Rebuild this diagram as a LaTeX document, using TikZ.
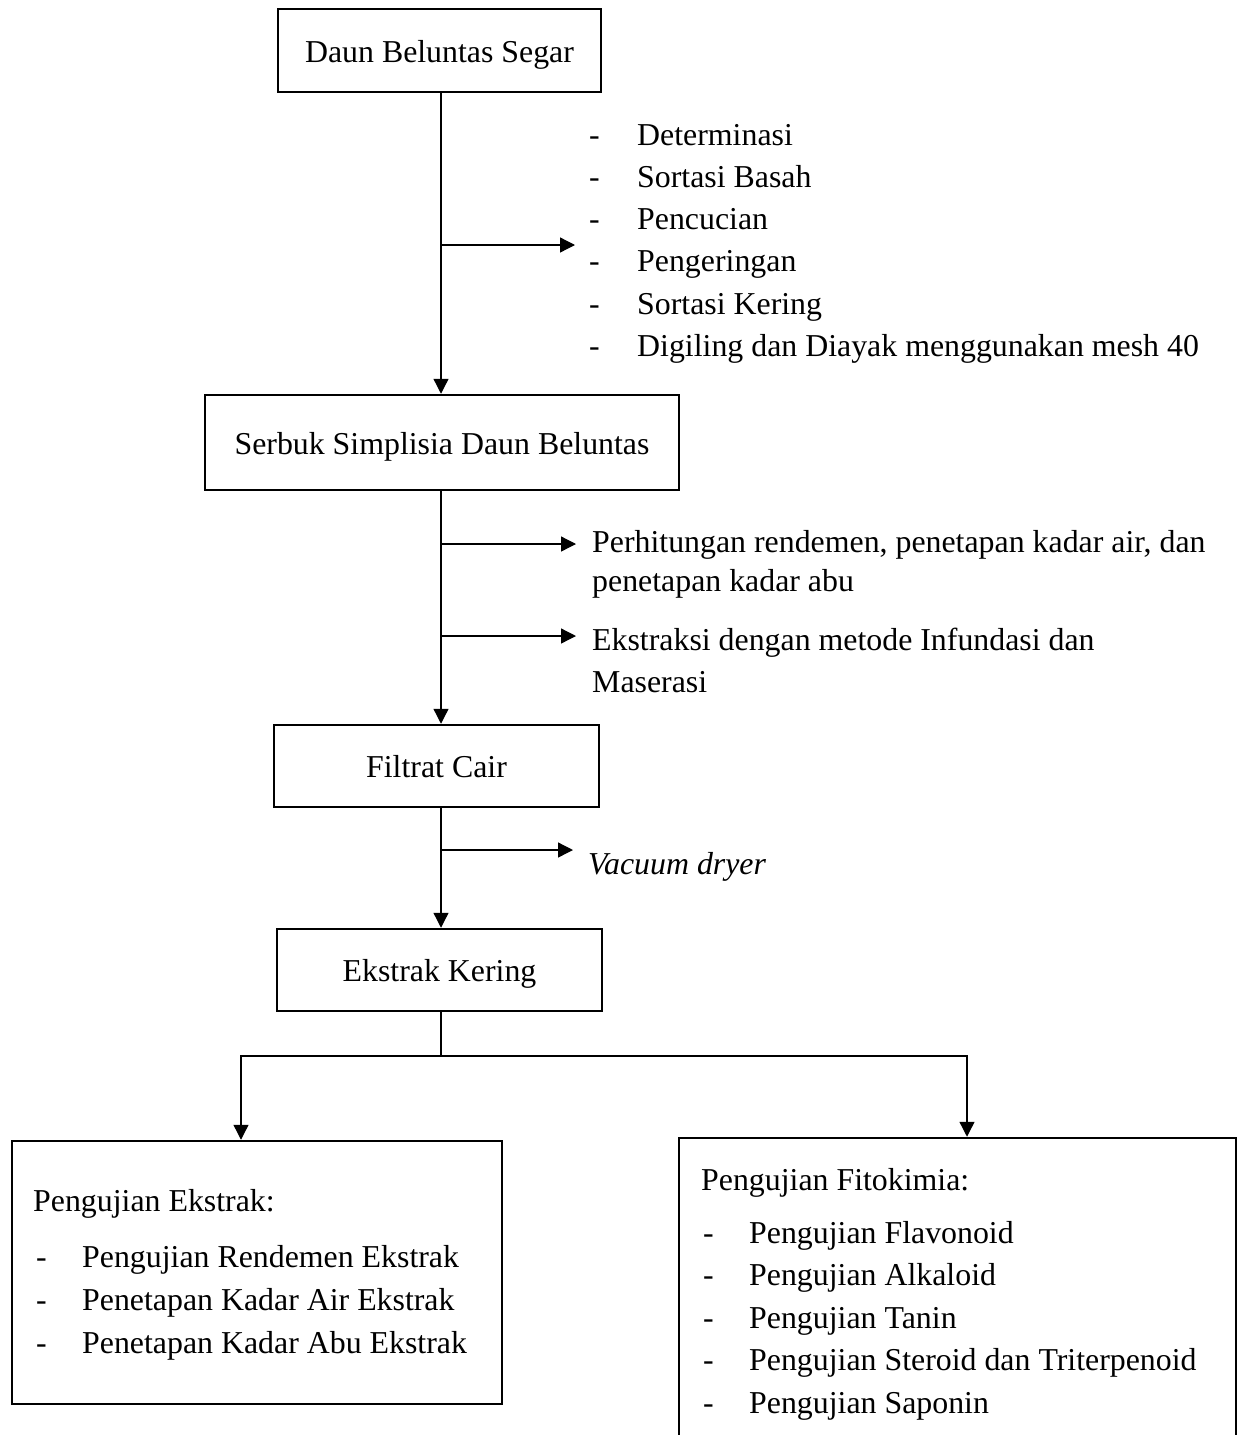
\documentclass[tikz,border=0pt]{standalone}
\usepackage{fontspec}
\setmainfont{Liberation Serif}
\usetikzlibrary{arrows.meta}
\begin{document}
\begin{tikzpicture}[x=1pt,y=-1pt,
  every node/.style={font=\fontsize{31.85}{42.5}\selectfont, inner sep=0pt},
  box/.style={draw, line width=2.5pt, text height=30.3pt, text depth=7.3pt},
  frame/.style={draw, line width=2.5pt},
  conn/.style={line width=1.3pt},
  arr/.style={conn, -{Triangle[length=15pt,width=15pt]}},
  lbl/.style={anchor=base west}]
\useasboundingbox (0,0) rectangle (1237,1435);
\clip (0,0) rectangle (1237,1435);
\fill[white] (0,0) rectangle (1237,1435);

% boxes
\node[box, minimum width=323pt, minimum height=83pt] (b1) at (439.5,50.5) {Daun Beluntas Segar};
\node[box, minimum width=474pt, minimum height=95pt] (b2) at (442,442.5) {Serbuk Simplisia Daun Beluntas};
\node[box, minimum width=325pt, minimum height=82pt] (b3) at (436.5,766) {Filtrat Cair};
\node[box, minimum width=325pt, minimum height=82pt] (b4) at (439.5,970) {Ekstrak Kering};
\node[frame, minimum width=490pt, minimum height=263pt] (lbox) at (257,1272.5) {};
\node[frame, minimum width=557pt, minimum height=340pt] (rbox) at (957.5,1308) {};

% helper coordinates
\coordinate (ax) at (441,0);
\coordinate (t1) at (575,245);
\coordinate (t2) at (576,544);
\coordinate (t3) at (576,636);
\coordinate (t4) at (573,850);
\coordinate (sp) at (441,1056);
\coordinate (lx) at (241,0);
\coordinate (rx) at (967,0);

% connectors
\draw[arr] (ax |- b1.south) -- (ax |- b2.north);
\draw[arr] (ax |- t1) -- (t1);
\draw[arr] (ax |- b2.south) -- (ax |- b3.north);
\draw[arr] (ax |- t2) -- (t2);
\draw[arr] (ax |- t3) -- (t3);
\draw[arr] (ax |- b3.south) -- (ax |- b4.north);
\draw[arr] (ax |- t4) -- (t4);
\draw[conn] (ax |- b4.south) -- (sp);
\draw[arr] (sp) -| (lx |- lbox.north);
\draw[arr] (sp) -| (rx |- rbox.north);

% first list
\foreach \t [count=\i] in {Determinasi, Sortasi Basah, Pencucian, Pengeringan, Sortasi Kering, Digiling dan Diayak menggunakan mesh 40}{
  \node[lbl] (da\i) at (589,{145+42.3*(\i-1)}) {-};
  \node[lbl] (ta\i) at (637,{145+42.3*(\i-1)}) {\t};
}

% second group
\node[lbl] (p1) at (592,552) {Perhitungan rendemen, penetapan kadar air, dan};
\node[lbl] (p2) at (592,591) {penetapan kadar abu};
\node[lbl] (e1) at (592,650) {Ekstraksi dengan metode Infundasi dan};
\node[lbl] (e2) at (592,692) {Maserasi};
\node[lbl] (vd) at (588,874) {\itshape Vacuum dryer};

% left box text
\node[lbl] (lh) at (33,1211) {Pengujian Ekstrak:};
\foreach \t [count=\i] in {Pengujian Rendemen Ekstrak, Penetapan Kadar Air Ekstrak, Penetapan Kadar Abu Ekstrak}{
  \node[lbl] (dl\i) at (36,{1267+43*(\i-1)}) {-};
  \node[lbl] (tl\i) at (82,{1267+43*(\i-1)}) {\t};
}

% right box text
\node[lbl] (rh) at (701,1190) {Pengujian Fitokimia:};
\foreach \t [count=\i] in {Pengujian Flavonoid, Pengujian Alkaloid, Pengujian Tanin, Pengujian Steroid dan Triterpenoid, Pengujian Saponin}{
  \node[lbl] (dr\i) at (703,{1243+42.5*(\i-1)}) {-};
  \node[lbl] (tr\i) at (749,{1243+42.5*(\i-1)}) {\t};
}
\end{tikzpicture}
\end{document}
